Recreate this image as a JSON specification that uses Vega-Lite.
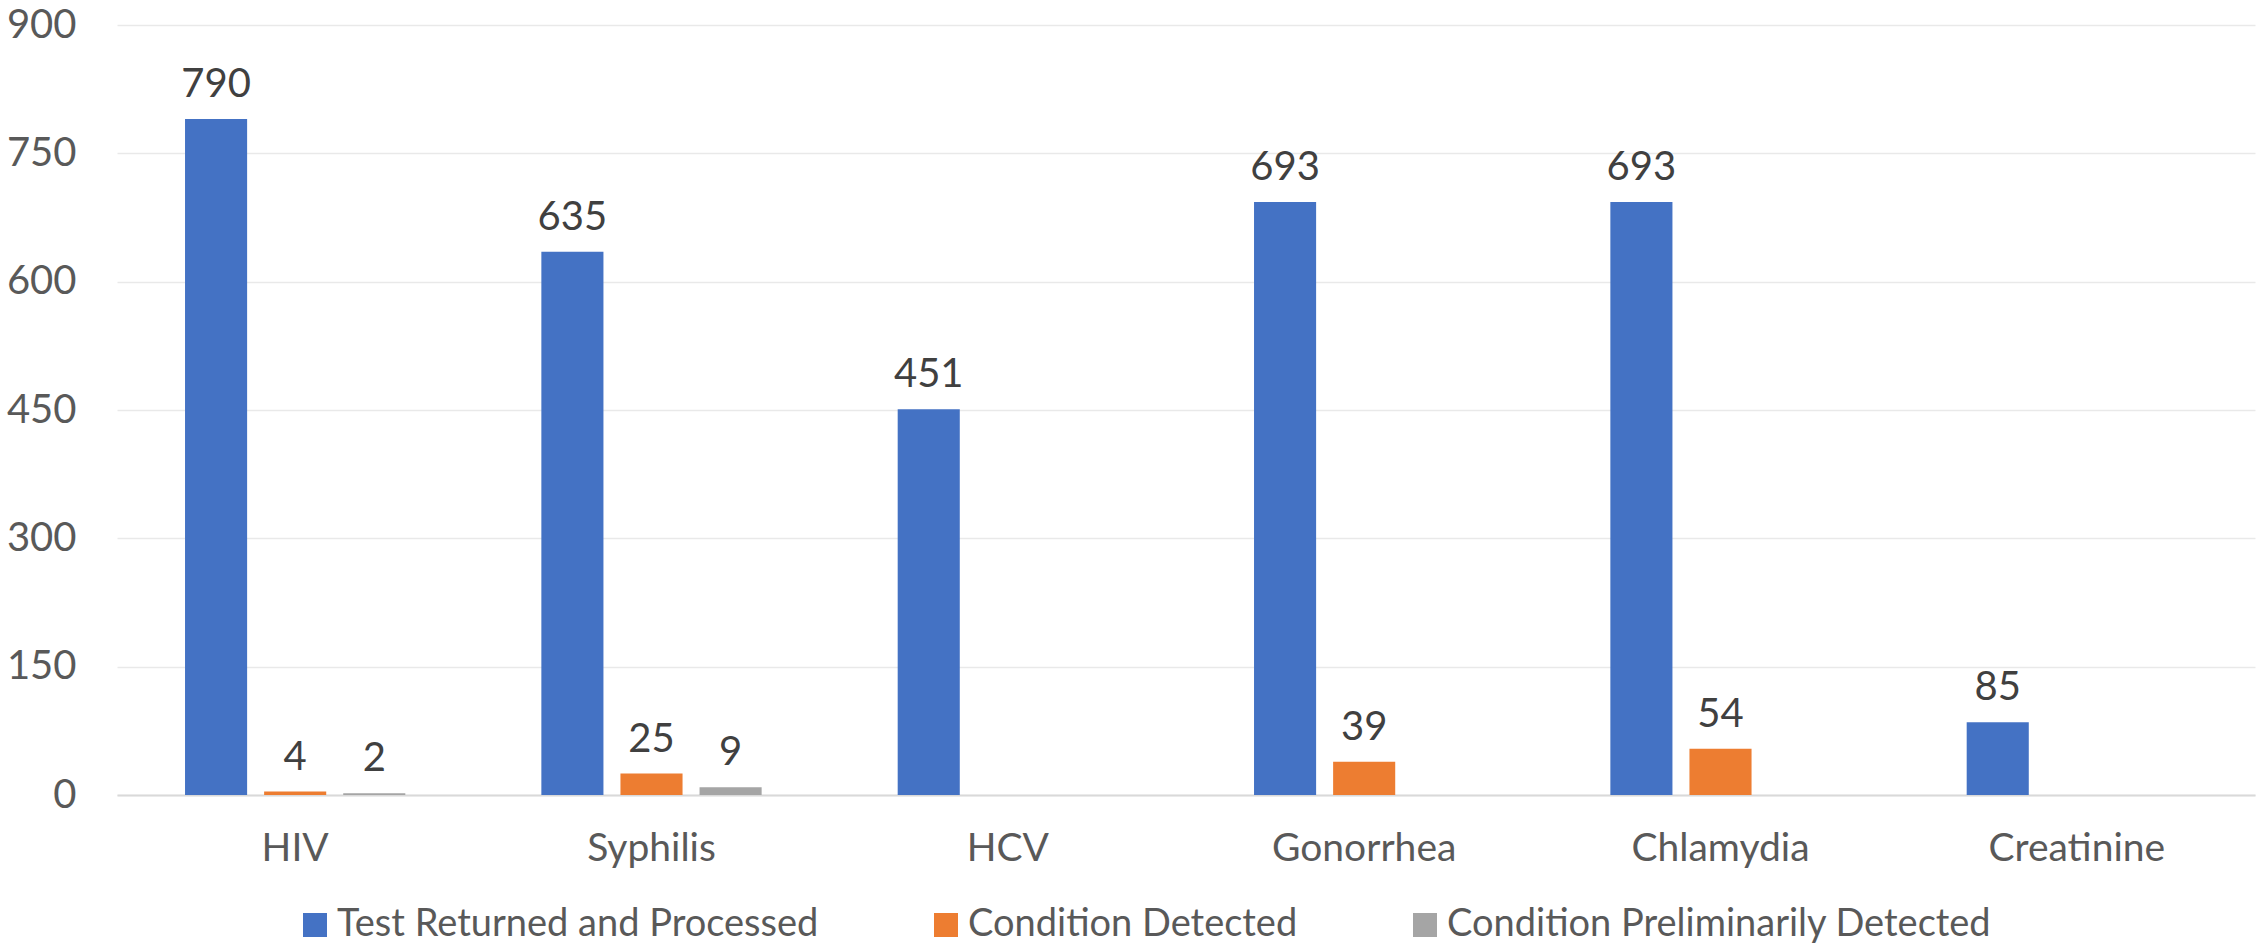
{
  "$schema": "https://vega.github.io/schema/vega-lite/v6.json",
  "width": 2138,
  "height": 770,
  "autosize": {"type": "none"},
  "padding": {"left": 117, "top": 25, "right": 12, "bottom": 150},
  "background": "white",
  "config": {"view": {"stroke": null}, "font": "Lato"},
  "data": {
    "values": [
      {"test": "HIV", "series": "Test Returned and Processed", "value": 790},
      {"test": "HIV", "series": "Condition Detected", "value": 4},
      {"test": "HIV", "series": "Condition Preliminarily Detected", "value": 2},
      {"test": "Syphilis", "series": "Test Returned and Processed", "value": 635},
      {"test": "Syphilis", "series": "Condition Detected", "value": 25},
      {"test": "Syphilis", "series": "Condition Preliminarily Detected", "value": 9},
      {"test": "HCV", "series": "Test Returned and Processed", "value": 451},
      {"test": "Gonorrhea", "series": "Test Returned and Processed", "value": 693},
      {"test": "Gonorrhea", "series": "Condition Detected", "value": 39},
      {"test": "Chlamydia", "series": "Test Returned and Processed", "value": 693},
      {"test": "Chlamydia", "series": "Condition Detected", "value": 54},
      {"test": "Creatinine", "series": "Test Returned and Processed", "value": 85}
    ]
  },
  "encoding": {
    "x": {
      "field": "test", "type": "nominal",
      "sort": ["HIV", "Syphilis", "HCV", "Gonorrhea", "Chlamydia", "Creatinine"],
      "scale": {"paddingInner": 0, "paddingOuter": 0},
      "axis": {"title": null, "labelAngle": 0, "ticks": false, "domainColor": "#d9d9d9", "domainWidth": 2, "labelFontSize": 39, "labelColor": "#595959", "labelPadding": 34, "labelFont": "Lato", "labelLimit": 0}
    },
    "xOffset": {
      "field": "series", "type": "nominal",
      "scale": {"domain": ["Test Returned and Processed", "Condition Detected", "Condition Preliminarily Detected"], "paddingInner": 0.215, "paddingOuter": 0.86}
    },
    "y": {
      "field": "value", "type": "quantitative",
      "scale": {"domain": [0, 900], "nice": false},
      "axis": {"title": null, "values": [0, 150, 300, 450, 600, 750, 900], "domain": false, "ticks": false, "gridColor": "#e9e9e9", "gridWidth": 1.5, "labelFontSize": 40, "labelColor": "#595959", "labelPadding": 41, "labelFont": "Lato"}
    }
  },
  "layer": [
    {
      "mark": {"type": "bar"},
      "encoding": {
        "color": {
          "field": "series", "type": "nominal",
          "scale": {"domain": ["Test Returned and Processed", "Condition Detected", "Condition Preliminarily Detected"], "range": ["#4472C4", "#ED7D31", "#A5A5A5"]},
          "legend": {"orient": "none", "legendX": 179, "legendY": 881, "direction": "horizontal", "title": null, "symbolType": "square", "symbolSize": 576, "symbolStrokeWidth": 0, "labelFontSize": 38, "labelColor": "#595959", "labelOffset": 3, "columnPadding": 108, "labelLimit": 0, "labelFont": "Lato"}
        }
      }
    },
    {
      "mark": {"type": "text", "baseline": "alphabetic", "dy": -22, "fontSize": 40, "color": "#404040", "font": "Lato"},
      "encoding": {"text": {"field": "value", "type": "quantitative"}}
    }
  ]
}
